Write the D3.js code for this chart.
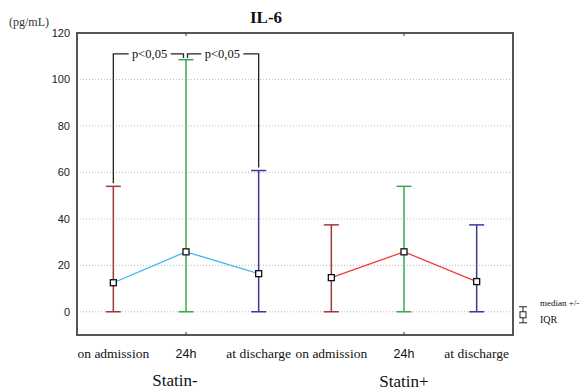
<!DOCTYPE html>
<html>
<head>
<meta charset="utf-8">
<script src="https://cdn.jsdelivr.net/npm/d3@7"></script>
<style>
  body { margin: 0; background: #fff; }
  svg { display: block; }
</style>
</head>
<body>
<div id="chart"></div>
<script>
// data
const groups = ["Statin-", "Statin+"];
const timepoints = ["on admission", "24h", "at discharge"];
const medianMinus = [12.5, 25.8, 16.4];
const medianPlus = [14.7, 25.8, 13];
const lowerMinus = [0, 0, 0];
const lowerPlus = [0, 0, 0];
const upperMinus = [54, 108.5, 60.8];
const upperPlus = [37.4, 54, 37.4];
const yTicks = [0, 20, 40, 60, 80, 100, 120];
const pLabels = ["p<0,05", "p<0,05"];
const pairs = [[0, 1], [1, 2]]; // compared timepoints in Statin-

const timeColors = ["#a2393c", "#3aa84a", "#3a3a9e"];
const lineColors = ["#3cb6ea", "#f03a3a"];

const W = 588, H = 391;
const margin = { top: 33, right: 75, bottom: 56, left: 77 };

const svg = d3.select("#chart").append("svg").attr("width", W).attr("height", H);

const keys = [];
groups.forEach((g) => timepoints.forEach((t) => keys.push(g + "|" + t)));

const x = d3.scaleBand().domain(keys).range([margin.left, W - margin.right]);
const y = d3.scaleLinear().domain([-10, 120]).range([H - margin.bottom, margin.top]);
const cx = (k) => x(k) + x.bandwidth() / 2;

// grid
svg.append("g")
  .selectAll("line")
  .data(yTicks.filter((d) => d < 120))
  .enter()
  .append("line")
  .attr("x1", margin.left)
  .attr("x2", W - margin.right)
  .attr("y1", (d) => y(d))
  .attr("y2", (d) => y(d))
  .attr("stroke", "#bbb")
  .attr("stroke-width", 1)
  .attr("stroke-dasharray", "1,2");

// y axis labels
const yAxis = d3.axisLeft(y).tickValues(yTicks).tickSize(0).tickPadding(7);
svg.append("g")
  .attr("transform", `translate(${margin.left},0)`)
  .call(yAxis)
  .call((g) => g.select(".domain").remove())
  .selectAll("text")
  .style("font-family", "'Liberation Sans', Arial, sans-serif")
  .style("font-size", "11px")
  .style("fill", "#222");

// frame
svg.append("rect")
  .attr("x", margin.left)
  .attr("y", margin.top)
  .attr("width", W - margin.left - margin.right)
  .attr("height", H - margin.top - margin.bottom)
  .attr("fill", "none")
  .attr("stroke", "#555")
  .attr("stroke-width", 2);

// small ticks at group centres
groups.forEach((g) => {
  const px = cx(g + "|" + timepoints[1]);
  svg.append("line").attr("x1", px).attr("x2", px)
    .attr("y1", y.range()[0]).attr("y2", y.range()[0] - 3)
    .attr("stroke", "#333");
  svg.append("line").attr("x1", px).attr("x2", px)
    .attr("y1", y.range()[1]).attr("y2", y.range()[1] + 3)
    .attr("stroke", "#333");
});

const series = [
  { g: groups[0], med: medianMinus, lo: lowerMinus, hi: upperMinus, color: lineColors[0] },
  { g: groups[1], med: medianPlus, lo: lowerPlus, hi: upperPlus, color: lineColors[1] },
];

const capW = 7.5;
series.forEach((s) => {
  const pts = timepoints.map((t, i) => ({ k: s.g + "|" + t, i }));
  // whiskers
  const wk = svg.append("g").selectAll("g").data(pts).enter().append("g")
    .attr("stroke", (d) => timeColors[d.i])
    .attr("stroke-width", 1.5);
  wk.append("line")
    .attr("x1", (d) => cx(d.k)).attr("x2", (d) => cx(d.k))
    .attr("y1", (d) => y(s.lo[d.i])).attr("y2", (d) => y(s.hi[d.i]));
  wk.append("line")
    .attr("x1", (d) => cx(d.k) - capW).attr("x2", (d) => cx(d.k) + capW)
    .attr("y1", (d) => y(s.lo[d.i])).attr("y2", (d) => y(s.lo[d.i]));
  wk.append("line")
    .attr("x1", (d) => cx(d.k) - capW).attr("x2", (d) => cx(d.k) + capW)
    .attr("y1", (d) => y(s.hi[d.i])).attr("y2", (d) => y(s.hi[d.i]));

  // median line
  svg.append("path")
    .datum(pts)
    .attr("fill", "none")
    .attr("stroke", s.color)
    .attr("stroke-width", 1.3)
    .attr("d", d3.line().x((d) => cx(d.k)).y((d) => y(s.med[d.i])));

  // markers
  svg.append("g").selectAll("rect").data(pts).enter().append("rect")
    .attr("x", (d) => cx(d.k) - 3)
    .attr("y", (d) => y(s.med[d.i]) - 3)
    .attr("width", 6)
    .attr("height", 6)
    .attr("fill", "#fff")
    .attr("stroke", "#111")
    .attr("stroke-width", 1.3);
});

// significance brackets (Statin-)
const bracketY = y(111);
pairs.forEach((p, j) => {
  const k0 = groups[0] + "|" + timepoints[p[0]];
  const k1 = groups[0] + "|" + timepoints[p[1]];
  const x0 = cx(k0) + (p[0] === 1 ? 1.5 : 0);
  const x1 = cx(k1) - (p[1] === 1 ? 2.5 : 0);
  const y0 = p[0] === 1 ? bracketY + 4 : y(upperMinus[p[0]]) - 3;
  const y1 = p[1] === 1 ? bracketY + 4 : y(upperMinus[p[1]]) - 3;
  const mid = (cx(k0) + cx(k1)) / 2;
  const gap = 21;
  const b = svg.append("g").attr("fill", "none").attr("stroke", "#222").attr("stroke-width", 1.3);
  b.append("path").attr("d", `M${x0},${y0}V${bracketY}H${mid - gap}`);
  b.append("path").attr("d", `M${mid + gap},${bracketY}H${x1}V${y1}`);
  svg.append("text")
    .attr("x", mid)
    .attr("y", bracketY + 4)
    .attr("text-anchor", "middle")
    .style("font-family", "'Liberation Serif', 'Times New Roman', serif")
    .style("font-size", "12.5px")
    .style("fill", "#111")
    .text(pLabels[j]);
});

// x labels
keys.forEach((k) => {
  const t = k.split("|")[1];
  svg.append("text")
    .attr("x", cx(k))
    .attr("y", 358)
    .attr("text-anchor", "middle")
    .style("font-family", t === "24h" ? "'Liberation Sans', Arial, sans-serif" : "'Liberation Serif', 'Times New Roman', serif")
    .style("font-size", t === "24h" ? "12.5px" : "13.5px")
    .style("fill", "#111")
    .text(t);
});

// group labels
svg.selectAll(".grp").data(groups).enter().append("text")
  .attr("x", (g, i) => cx(g + "|" + timepoints[1]) - (i === 0 ? 11 : 0))
  .attr("y", (g, i) => (i === 0 ? 386 : 387))
  .attr("text-anchor", "middle")
  .style("font-family", "'Liberation Serif', 'Times New Roman', serif")
  .style("font-size", "17px")
  .style("fill", "#111")
  .text((g) => g);

// title and unit
svg.append("text")
  .attr("x", 266).attr("y", 23)
  .attr("text-anchor", "middle")
  .style("font-family", "'Liberation Serif', 'Times New Roman', serif")
  .style("font-size", "17px")
  .style("font-weight", "bold")
  .style("fill", "#111")
  .text("IL-6");

svg.append("text")
  .attr("x", 9).attr("y", 26)
  .style("font-family", "'Liberation Serif', 'Times New Roman', serif")
  .style("font-size", "12px")
  .style("fill", "#333")
  .text("(pg/mL)");

// legend
const lx = 523, ly = y(0) + 3;
const lg = svg.append("g").attr("stroke", "#222").attr("stroke-width", 1).attr("fill", "none");
lg.append("path").attr("d", `M${lx - 4},${ly - 8}H${lx + 4}M${lx},${ly - 8}V${ly + 8}M${lx - 4},${ly + 8}H${lx + 4}`);
lg.append("rect").attr("x", lx - 3).attr("y", ly - 3).attr("width", 6).attr("height", 6).attr("fill", "#fff");
svg.append("text").attr("x", 540).attr("y", 306)
  .style("font-family", "'Liberation Serif', 'Times New Roman', serif")
  .style("font-size", "9px").style("fill", "#111").text("median +/-");
svg.append("text").attr("x", 540).attr("y", 323)
  .style("font-family", "'Liberation Serif', 'Times New Roman', serif")
  .style("font-size", "10px").style("fill", "#111").text("IQR");
</script>
</body>
</html>
